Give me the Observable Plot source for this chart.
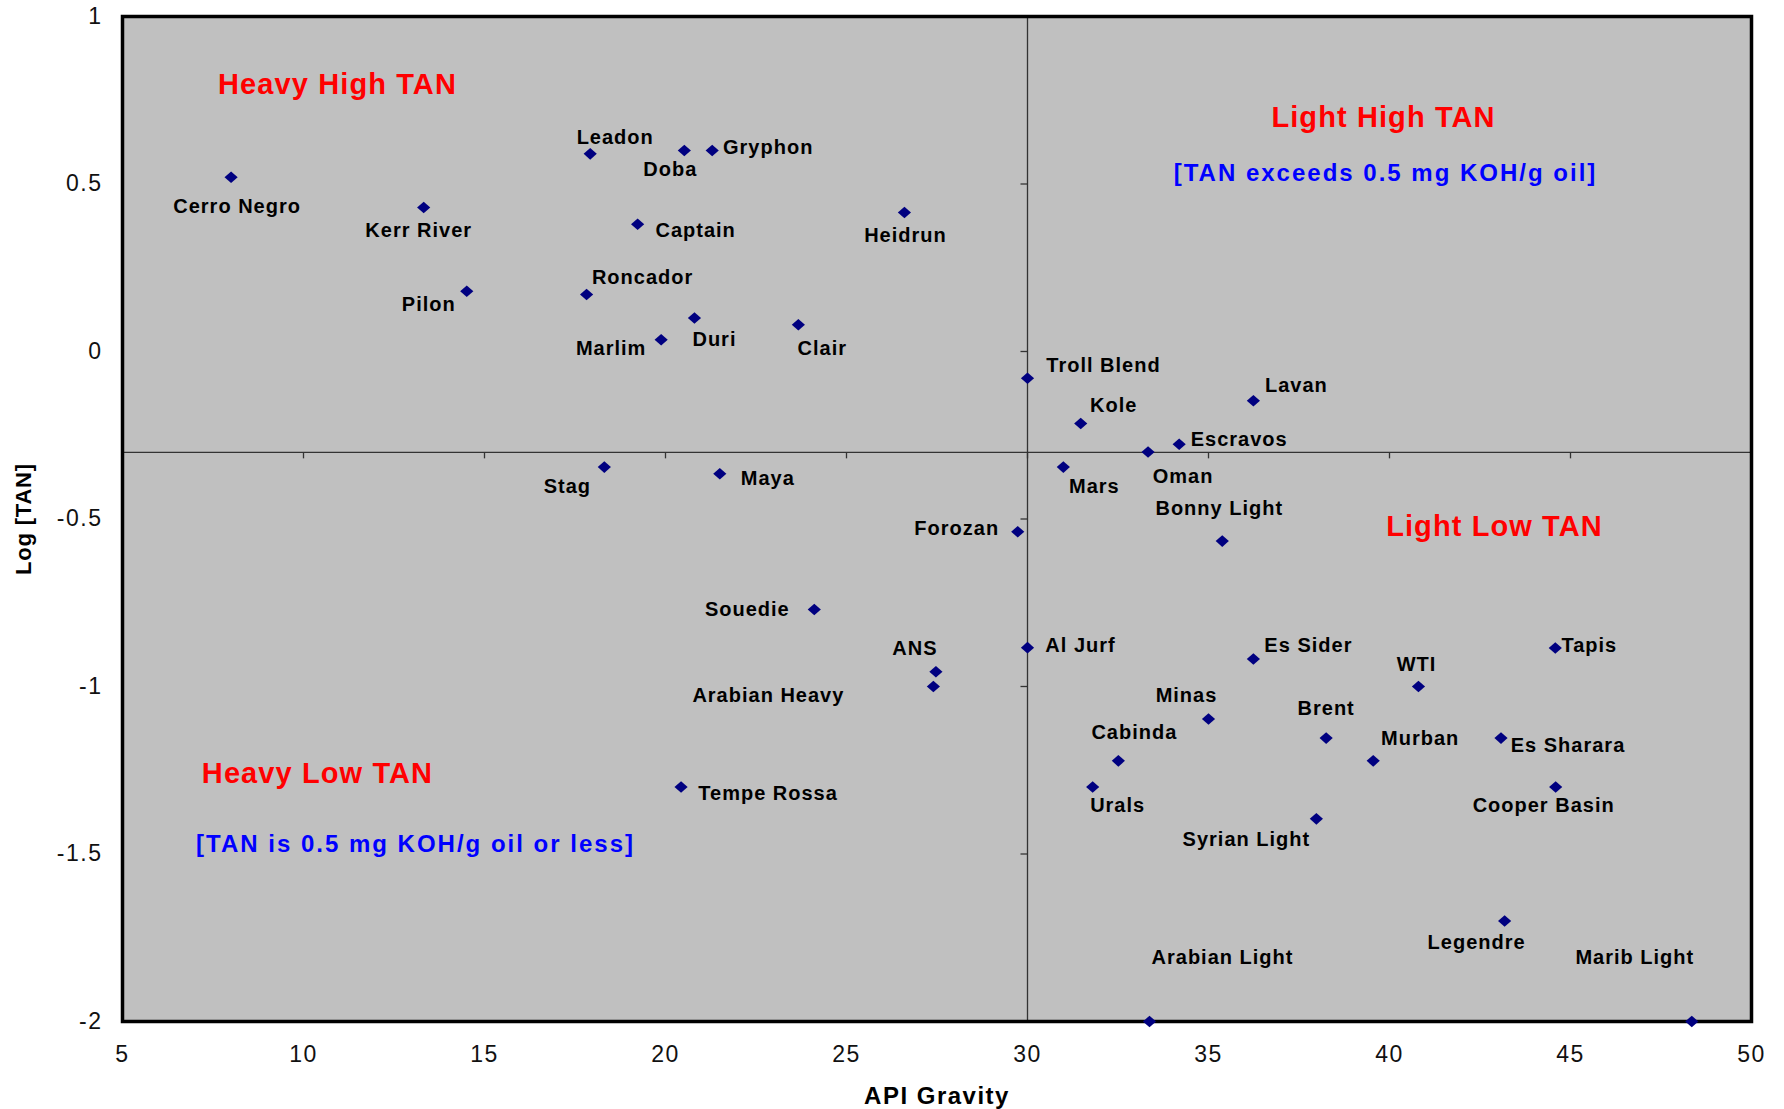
<!DOCTYPE html>
<html>
<head>
<meta charset="utf-8">
<script src="https://cdn.jsdelivr.net/npm/d3@7"></script>
<script src="https://cdn.jsdelivr.net/npm/@observablehq/plot@0.6"></script>
<style>
  html, body { margin: 0; padding: 0; background: #fff; }
  #chart svg { display: block; }
  g[font-size="20"] text { letter-spacing: 1px; }
  g[font-size="29"] text { letter-spacing: 1.1px; }
  g[font-size="24"][fill="#0000ff"] text { letter-spacing: 2px; }
  g[font-size="23"] text { letter-spacing: 1.5px; }
  g[font-size="24"][fill="#000"] text { letter-spacing: 1.5px; }
  g[font-size="22"] text { letter-spacing: 0.8px; }
</style>
</head>
<body>
<div id="chart"></div>
<script>
// ---- Data ----
const names = [
  "Cerro Negro", "Kerr River", "Pilon", "Leadon", "Doba", "Gryphon", "Captain", "Heidrun",
  "Roncador", "Duri", "Marlim", "Clair", "Troll Blend", "Kole", "Lavan", "Escravos",
  "Oman", "Stag", "Maya", "Mars", "Bonny Light", "Forozan", "Souedie", "ANS",
  "Arabian Heavy", "Tempe Rossa", "Al Jurf", "Es Sider", "Minas", "Cabinda", "Urals", "Brent",
  "Murban", "WTI", "Syrian Light", "Tapis", "Es Sharara", "Cooper Basin", "Legendre",
  "Arabian Light", "Marib Light"
];
const apiGravity = [
  8.0, 13.32, 14.51, 17.92, 20.52, 21.29, 19.23, 26.6,
  17.82, 20.8, 19.88, 23.67, 30.0, 31.47, 36.24, 34.19,
  33.33, 18.31, 21.5, 30.99, 35.38, 29.73, 24.11, 27.47,
  27.4, 20.43, 30.0, 36.24, 35.0, 32.51, 31.8, 38.25,
  39.55, 40.8, 37.98, 44.58, 43.08, 44.59, 43.18,
  33.37, 48.35
];
const logTan = [
  0.52, 0.43, 0.18, 0.59, 0.60, 0.60, 0.38, 0.415,
  0.17, 0.10, 0.035, 0.08, -0.08, -0.215, -0.147, -0.277,
  -0.30, -0.345, -0.365, -0.345, -0.566, -0.538, -0.77, -0.956,
  -1.0, -1.30, -0.884, -0.918, -1.097, -1.222, -1.30, -1.154,
  -1.222, -1.0, -1.395, -0.885, -1.154, -1.30, -1.70,
  -2.0, -2.0
];
const xTicks = [5, 10, 15, 20, 25, 30, 35, 40, 45, 50];
const yTicks = [1, 0.5, 0, -0.5, -1, -1.5, -2];
const apiDivide = 30;          // heavy / light boundary
const tanThreshold = 0.5;      // mg KOH/g oil

// ---- Label placement (pixel offsets from each marker, not data) ----
const labelOffsets = {
  "Cerro Negro": [6, 29], "Kerr River": [-5, 23], "Pilon": [-38, 13], "Leadon": [25, -16],
  "Doba": [-14, 19], "Gryphon": [56, -3], "Captain": [58, 6], "Heidrun": [1, 23],
  "Roncador": [56, -17], "Duri": [20, 22], "Marlim": [-50, 9], "Clair": [24, 24],
  "Troll Blend": [76, -13], "Kole": [33, -18], "Lavan": [43, -15], "Escravos": [60, -5],
  "Oman": [35, 25], "Stag": [-37, 20], "Maya": [48, 5], "Mars": [31, 20],
  "Bonny Light": [-3, -33], "Forozan": [-61, -3], "Souedie": [-67, 0], "ANS": [-21, -23],
  "Arabian Heavy": [-165, 9], "Tempe Rossa": [87, 7], "Al Jurf": [53, -2], "Es Sider": [55, -13],
  "Minas": [-22, -23], "Cabinda": [16, -28], "Urals": [25, 19], "Brent": [0, -29],
  "Murban": [47, -22], "WTI": [-2, -22], "Syrian Light": [-70, 21], "Tapis": [34, -2],
  "Es Sharara": [67, 8], "Cooper Basin": [-12, 19], "Legendre": [-28, 22],
  "Arabian Light": [73, -64], "Marib Light": [-57, -64]
};

const crudes = names.map((name, i) => ({ name, api: apiGravity[i], logTan: logTan[i] }));

// custom symbols
const diamond = { draw(ctx) { ctx.moveTo(0, -5.8); ctx.lineTo(6.6, 0); ctx.lineTo(0, 5.8); ctx.lineTo(-6.6, 0); ctx.closePath(); } };
const tickLeft = { draw(ctx) { ctx.moveTo(0, 0); ctx.lineTo(-7, 0); } };
const tickDown = { draw(ctx) { ctx.moveTo(0, 0); ctx.lineTo(0, 6); } };

const thresholdY = Math.log10(tanThreshold);
const font = "'Liberation Sans', Arial, sans-serif";

const labelMarks = crudes.map(d => {
  const [dx, dy] = labelOffsets[d.name] || [0, 0];
  return Plot.text([d], {
    x: "api", y: "logTan", text: "name", dx, dy,
    textAnchor: "middle", lineAnchor: "middle", fontSize: 20, fontWeight: "bold", fill: "#000"
  });
});

const note = (text, dx, dy, opts) => Plot.text([text], Object.assign({
  frameAnchor: "top-left", dx, dy, textAnchor: "middle", lineAnchor: "middle", fontWeight: "bold"
}, opts));

const chart = Plot.plot({
  width: 1784,
  height: 1109,
  marginLeft: 122,
  marginRight: 33,
  marginTop: 16,
  marginBottom: 88,
  style: { fontFamily: font, background: "#fff", overflow: "visible" },
  x: { domain: [5, 50] },
  y: { domain: [-2, 1] },
  marks: [
    Plot.frame({ fill: "#c0c0c0", stroke: null }),
    Plot.ruleX([apiDivide], { stroke: "#333", strokeWidth: 1.3 }),
    Plot.ruleY([thresholdY], { stroke: "#333", strokeWidth: 1.3 }),
    Plot.dot(yTicks, { x: () => apiDivide, y: d => d, symbol: tickLeft, stroke: "#333", strokeWidth: 1.3, fill: "none" }),
    Plot.dot(xTicks, { x: d => d, y: () => thresholdY, symbol: tickDown, stroke: "#333", strokeWidth: 1.3, fill: "none" }),
    Plot.frame({ stroke: "#000", strokeWidth: 3.5 }),
    Plot.axisX(xTicks, { tickSize: 0, tickPadding: 24, fontSize: 23, tickFormat: d => String(d), label: null, fill: "#111" }),
    Plot.axisY(yTicks, { tickSize: 0, tickPadding: 20, fontSize: 23, tickFormat: d => String(d), label: null, fill: "#111" }),
    Plot.dot(crudes, { x: "api", y: "logTan", symbol: diamond, fill: "#000080", stroke: null }),
    ...labelMarks,
    note("Heavy High TAN", 215, 68, { fontSize: 29, fill: "#ff0000" }),
    note("Light High TAN", 1261, 101, { fontSize: 29, fill: "#ff0000" }),
    note("[TAN exceeds 0.5 mg KOH/g oil]", 1263, 157, { fontSize: 24, fill: "#0000ff" }),
    note("Light Low TAN", 1372, 510, { fontSize: 29, fill: "#ff0000" }),
    note("Heavy Low TAN", 195, 757, { fontSize: 29, fill: "#ff0000" }),
    note("[TAN is 0.5 mg KOH/g oil or less]", 293, 828, { fontSize: 24, fill: "#0000ff" }),
    Plot.text(["API Gravity"], { frameAnchor: "bottom", dy: 75, textAnchor: "middle", lineAnchor: "middle", fontSize: 24, fontWeight: "bold", fill: "#000" }),
    Plot.text(["Log [TAN]"], { frameAnchor: "left", dx: -99, rotate: -90, textAnchor: "middle", lineAnchor: "middle", fontSize: 22, fontWeight: "bold", fill: "#000" })
  ]
});

document.getElementById("chart").appendChild(chart);
</script>
</body>
</html>
